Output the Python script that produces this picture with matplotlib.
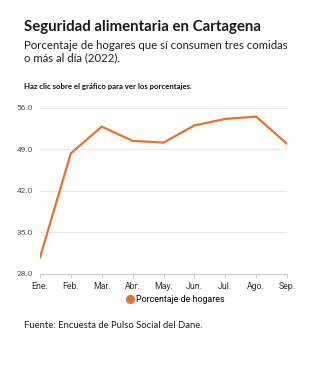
import numpy as np
import matplotlib
matplotlib.use('Agg')
import matplotlib.pyplot as plt
from matplotlib.lines import Line2D

months = ['Ene.', 'Feb.', 'Mar.', 'Abr.', 'May.', 'Jun.', 'Jul.', 'Ago.', 'Sep.']
hogares = [30.7, 48.3, 52.8, 50.4, 50.1, 53.0, 54.1, 54.5, 49.9]
y_ticks = [28.0, 35.0, 42.0, 49.0, 56.0]

W, H = 328, 366
orange = '#e5722f'

def fx(px):
  return px / W

def fy(py):
  return 1 - py / H

fig = plt.figure(figsize=(W / 100, H / 100), dpi=100)
ax = fig.add_axes([fx(40), fy(273.5), fx(287) - fx(40), (273.5 - 107.7) / H])

x = np.arange(len(months))
ax.plot(x, hogares, color=orange, lw=1.6, solid_joinstyle='miter', zorder=3)

ax.set_xlim(0, len(months) - 1)
ax.set_ylim(y_ticks[0], y_ticks[-1])
ax.set_yticks(y_ticks)
ax.set_yticklabels(['%.1f' % v for v in y_ticks])
ax.set_xticks(x)
ax.set_xticklabels(months)
ax.grid(axis='y', color='#e8e8e8', lw=0.8)
ax.set_axisbelow(True)
for s in ['top', 'right', 'left']:
  ax.spines[s].set_visible(False)
ax.spines['bottom'].set_color('#d0d0d0')
ax.spines['bottom'].set_linewidth(0.8)
ax.tick_params(axis='x', length=3, width=0.8, color='#d0d0d0', pad=3,
               labelsize=6.3, labelcolor='#333333')
ax.tick_params(axis='y', length=0, pad=5, labelsize=6, labelcolor='#555555')
for lab in ax.get_xticklabels() + ax.get_yticklabels():
  lab.set_fontfamily('Roboto')

handle = Line2D([], [], marker='o', color='none', markerfacecolor=orange,
                markeredgecolor=orange, markersize=5.5)
fig.legend([handle], ['Porcentaje de hogares'], loc='center',
           bbox_to_anchor=(fx(175), fy(300)), frameon=False,
           prop={'family': 'Roboto', 'size': 6.4}, handletextpad=0.1,
           handlelength=1.0)

fig.text(fx(24), fy(27), 'Seguridad alimentaria en Cartagena', fontsize=10.8,
         fontweight='bold', family='Lato', color='#1a1a1a', va='center')
fig.text(fx(24), fy(51.5), 'Porcentaje de hogares que sí consumen tres comidas\no más al día (2022).',
         fontsize=8.2, family='Lato', color='#222222', va='center', linespacing=1.12)
fig.text(fx(24), fy(86), 'Haz clic sobre el gráfico para ver los porcentajes.',
         fontsize=5.6, fontweight='bold', family='Lato', color='#111111', va='center')
fig.text(fx(24), fy(325), 'Fuente: Encuesta de Pulso Social del Dane.',
         fontsize=6.8, family='Lato', color='#222222', va='center')

fig.savefig('out.png', dpi=100)
